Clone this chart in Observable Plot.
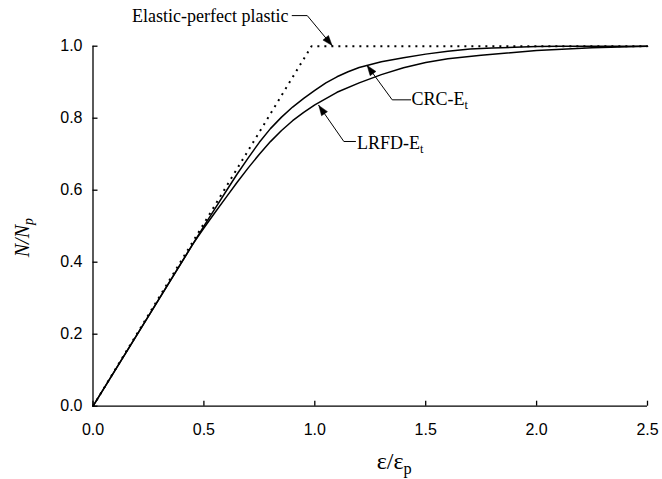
<!DOCTYPE html>
<html><head><meta charset="utf-8">
<script src="https://cdn.jsdelivr.net/npm/d3@7"></script>
<script src="https://cdn.jsdelivr.net/npm/@observablehq/plot@0.6"></script>
<style>html,body{margin:0;padding:0;background:#fff}#chart svg{display:block}</style>
</head><body><div id="chart"></div>
<script>
// ---- data ----
const xTicks = [0, 0.5, 1.0, 1.5, 2.0, 2.5];
const yTicks = [0, 0.2, 0.4, 0.6, 0.8, 1.0];

const epX = [0, 0.985, 2.5];
const epY = [0, 1.0, 1.0];

const crcX = [0, 0.5, 0.55, 0.6, 0.65, 0.7, 0.75, 0.8, 0.85, 0.9, 0.95, 1.0, 1.05, 1.1, 1.15, 1.2, 1.3, 1.4, 1.5, 1.6, 1.7, 1.8, 1.9, 2.0, 2.1, 2.5];
const crcY = [0, 0.5, 0.549, 0.597, 0.645, 0.69, 0.733, 0.771, 0.803, 0.831, 0.855, 0.877, 0.898, 0.915, 0.929, 0.941, 0.957, 0.968, 0.978, 0.986, 0.992, 0.995, 0.997, 0.999, 1.0, 1.0];

const lrfdX = [0, 0.45, 0.5, 0.55, 0.6, 0.65, 0.7, 0.75, 0.8, 0.85, 0.9, 0.95, 1.0, 1.1, 1.2, 1.3, 1.4, 1.5, 1.6, 1.75, 2.0, 2.25, 2.5];
const lrfdY = [0, 0.45, 0.495, 0.538, 0.58, 0.622, 0.662, 0.7, 0.735, 0.766, 0.793, 0.816, 0.837, 0.872, 0.898, 0.921, 0.94, 0.955, 0.965, 0.975, 0.988, 0.996, 1.0];

const annotLabels = ["Elastic-perfect plastic", "CRC-E_t", "LRFD-E_t"];
const annotAnchor = ["end", "start", "start"];
const annotTextX = [0.881, 1.436, 1.19];
const annotTextY = [1.067, 0.8353, 0.715];
const leaderStartX = [0.898, 1.432, 1.1835];
const leaderStartY = [1.085, 0.851, 0.7353];
const leaderBendX = [0.966, 1.349, 1.131];
const leaderBendY = [1.085, 0.851, 0.7353];
const tipX = [1.078, 1.236, 1.018];
const tipY = [1.0019, 0.9464, 0.8353];

const xTitle = "ε/ε_p";
const yTitle = "N/N_p";

// ---- layout ----
const W = 662, H = 479, ML = 92.5, MR = 15, MT = 45.7, MB = 73.3;
const PW = W - ML - MR, PH = H - MT - MB;
const kx = PW / 2.5, ky = PH / 1.0;

const toRows = (xs, ys, s) => xs.map((x, i) => ({s, x, y: ys[i]}));
const ep = toRows(epX, epY, "ep");
const crc = toRows(crcX, crcY, "crc");
const lrfd = toRows(lrfdX, lrfdY, "lrfd");

const leaders = annotLabels.flatMap((l, i) => [
  {id: i, x: leaderStartX[i], y: leaderStartY[i]},
  {id: i, x: leaderBendX[i], y: leaderBendY[i]},
  {id: i, x: tipX[i], y: tipY[i]}
]);

// arrowheads: filled triangles computed from the leader direction
const heads = annotLabels.flatMap((l, i) => {
  const dxp = (tipX[i] - leaderBendX[i]) * kx, dyp = -(tipY[i] - leaderBendY[i]) * ky;
  const len = Math.hypot(dxp, dyp), ux = dxp / len, uy = dyp / len;
  const nx = -uy, ny = ux, L = 10, Wd = 3.6;
  const pts = [[0, 0], [-L * ux + Wd * nx, -L * uy + Wd * ny], [-L * ux - Wd * nx, -L * uy - Wd * ny], [0, 0]];
  return pts.map(([px, py]) => ({id: i, x: tipX[i] + px / kx, y: tipY[i] - py / ky}));
});

const serif = "'Liberation Serif', 'Times New Roman', serif";

const annotMarks = annotLabels.map((lab, i) =>
  Plot.text([lab], {x: () => annotTextX[i], y: () => annotTextY[i], text: d => d,
    textAnchor: annotAnchor[i], lineAnchor: "bottom", fontFamily: serif, fontSize: 18, fill: "#000"}));

const chart = Plot.plot({
  width: W, height: H,
  marginLeft: ML, marginRight: MR, marginTop: MT, marginBottom: MB,
  style: {fontFamily: "'Liberation Sans', Arial, sans-serif", fontSize: "16px", color: "#000", background: "#fff"},
  x: {domain: [0, 2.5], ticks: xTicks, tickFormat: d3.format(".1f"), tickSize: 0, tickPadding: 17, label: null},
  y: {domain: [0, 1], ticks: yTicks, tickFormat: d3.format(".1f"), tickSize: 0, tickPadding: 10.5, label: null},
  marks: [
    Plot.ruleX([0], {stroke: "#000", strokeWidth: 1.3}),
    Plot.ruleY([0], {stroke: "#000", strokeWidth: 1.3}),
    Plot.tickX(xTicks, {x: d => d, insetTop: PH - 5, stroke: "#000", strokeWidth: 1.3}),
    Plot.tickY(yTicks, {y: d => d, insetRight: PW - 5, stroke: "#000", strokeWidth: 1.3}),
    Plot.line(ep, {x: "x", y: "y", stroke: "#000", strokeWidth: 2, strokeDasharray: "2,5", strokeLinecap: "butt"}),
    Plot.line(crc, {x: "x", y: "y", stroke: "#000", strokeWidth: 1.5}),
    Plot.line(lrfd, {x: "x", y: "y", stroke: "#000", strokeWidth: 1.5}),
    Plot.line(leaders, {x: "x", y: "y", z: "id", stroke: "#000", strokeWidth: 1, curve: "linear"}),
    Plot.line(heads, {x: "x", y: "y", z: "id", stroke: "#000", strokeWidth: 0.5, fill: "#000"}),
    ...annotMarks,
    Plot.text([xTitle], {frameAnchor: "bottom", text: d => d, dx: 24, dy: 63, textAnchor: "middle", lineAnchor: "bottom",
      fontFamily: serif, fontSize: 24, fill: "#000"}),
    Plot.text([yTitle], {frameAnchor: "left", text: d => d, dx: -64, dy: 11.5, rotate: -90, textAnchor: "middle", lineAnchor: "bottom",
      fontFamily: serif, fontSize: 20, fontStyle: "italic", fill: "#000"})
  ]
});

// turn "_x" into a subscript tspan
chart.querySelectorAll("text").forEach(t => {
  const s = t.textContent;
  if (s.includes("_")) {
    const [a, b] = s.split("_");
    t.textContent = "";
    const ns = "http://www.w3.org/2000/svg";
    const t1 = document.createElementNS(ns, "tspan"); t1.textContent = a;
    const t2 = document.createElementNS(ns, "tspan"); t2.textContent = b;
    t2.setAttribute("font-size", "0.68em");
    t2.setAttribute("dy", "0.32em");
    t.appendChild(t1); t.appendChild(t2);
  }
});

document.getElementById("chart").appendChild(chart);
</script>
</body></html>
